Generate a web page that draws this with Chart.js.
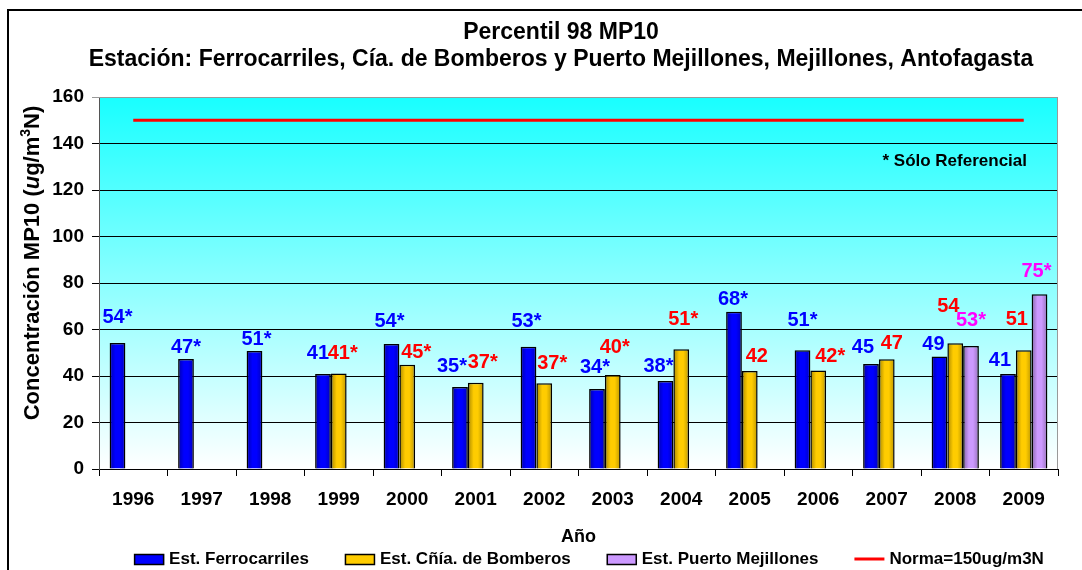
<!DOCTYPE html>
<html>
<head>
<meta charset="utf-8">
<script src="https://cdn.jsdelivr.net/npm/chart.js@4.4.1/dist/chart.umd.min.js"></script>
<style>
  html, body { margin: 0; padding: 0; background: #fff; }
  canvas { display: block; }
</style>
</head>
<body>
<canvas id="chart" width="1082" height="570"></canvas>
<script>
const FONT = '"Liberation Sans", Arial, Helvetica, sans-serif';

// Data
const years = ['1996', '1997', '1998', '1999', '2000', '2001', '2002', '2003', '2004', '2005', '2006', '2007', '2008', '2009'];
const ferrocarriles = [54.2, 47.3, 50.8, 40.9, 53.8, 35.3, 52.6, 34.4, 37.8, 67.6, 51.1, 45.2, 48.4, 40.9];
const bomberos = [null, null, null, 41.1, 44.8, 37.1, 36.9, 40.4, 51.5, 42.1, 42.4, 47.2, 54.1, 51.1];
const puerto = [null, null, null, null, null, null, null, null, null, null, null, null, 52.9, 75.2];
const norma = [150, 150, 150, 150, 150, 150, 150, 150, 150, 150, 150, 150, 150, 150];

const ferroLabels = ['54*', '47*', '51*', '41', '54*', '35*', '53*', '34*', '38*', '68*', '51*', '45', '49', '41'];
const bomberosLabels = ['', '', '', '41*', '45*', '37*', '37*', '40*', '51*', '42', '42*', '47', '54', '51'];
const puertoLabels = ['', '', '', '', '', '', '', '', '', '', '', '', '53*', '75*'];

const seriesNames = ['Est. Ferrocarriles', 'Est. Cñía. de Bomberos', 'Est. Puerto Mejillones', 'Norma=150ug/m3N'];
const titleLines = ['Percentil 98 MP10', 'Estación: Ferrocarriles, Cía. de Bomberos y Puerto Mejillones, Mejillones, Antofagasta'];
const xTitle = 'Año';
const note = '* Sólo Referencial';
const yMin = 0, yMax = 160, yStep = 20;

// label nudges (px from the top centre of each bar), the labels were dragged by hand in the original
const ferroNudge = [[0,-26],[0,-12],[2,-11],[-5,-20],[-2,-22],[-8,-20],[-2,-25],[-2,-22],[-7,-15],[-1,-12],[0,-30],[-8,-16],[-6,-12],[-8,-13]];
const bomberosNudge = [null,null,null,[4,-20],[9,-12],[7,-20],[8,-20],[2,-28],[2,-30],[7,-15],[12,-14],[5,-16],[-7,-37],[-7,-31]];
const puertoNudge = [null,null,null,null,null,null,null,null,null,null,null,null,[0,-26],[-3,-23]];

const COLORS = { ferro: '#0000FF', bomb: '#FFCC00', puerto: '#CC99FF', norma: '#FF0000' };
const LABEL_COLORS = ['#0000FF', '#FF0000', '#FF00FF'];

// Plugins
const backgroundPlugin = {
    id: 'plotBackground',
    beforeDraw(chart) {
        const { ctx, chartArea: a } = chart;
        ctx.save();
        ctx.fillStyle = '#fff';
        ctx.fillRect(0, 0, chart.width, chart.height);
        const g = ctx.createLinearGradient(0, a.top, 0, a.bottom);
        g.addColorStop(0, '#18FFFF');
        g.addColorStop(1, '#FFFFFF');
        ctx.fillStyle = g;
        ctx.fillRect(a.left, a.top, a.right - a.left, a.bottom - a.top);
        ctx.restore();
    }
};

// shading across each bar, like the Excel fill effect
const barShadePlugin = {
    id: 'barShade',
    afterDatasetsDraw(chart) {
        const { ctx } = chart;
        ctx.save();
        for (let d = 0; d < 3; d++) {
            chart.getDatasetMeta(d).data.forEach((bar, i) => {
                if (chart.data.datasets[d].data[i] == null) return;
                const { x, y, base, width } = bar.getProps(['x', 'y', 'base', 'width'], true);
                const l = x - width / 2 + 1, r = x + width / 2 - 1;
                const g = ctx.createLinearGradient(l, 0, r, 0);
                g.addColorStop(0, 'rgba(0,0,0,0.28)');
                g.addColorStop(0.35, 'rgba(0,0,0,0)');
                g.addColorStop(0.65, 'rgba(0,0,0,0)');
                g.addColorStop(1, 'rgba(0,0,0,0.22)');
                ctx.fillStyle = g;
                ctx.fillRect(l, y + 1, r - l, base - y - 1);
            });
        }
        ctx.restore();
    }
};

const decorPlugin = {
    id: 'decor',
    afterDraw(chart) {
        const { ctx, chartArea: a } = chart;
        ctx.save();

        // plot frame top/right
        ctx.strokeStyle = '#999';
        ctx.lineWidth = 1;
        ctx.beginPath();
        ctx.moveTo(a.left, a.top + 0.5);
        ctx.lineTo(a.right - 0.5, a.top + 0.5);
        ctx.lineTo(a.right - 0.5, a.bottom);
        ctx.stroke();

        // outer frame
        ctx.strokeStyle = '#000';
        ctx.lineWidth = 2;
        ctx.beginPath();
        ctx.moveTo(8, chart.height + 2);
        ctx.lineTo(8, 10);
        ctx.lineTo(chart.width + 2, 10);
        ctx.stroke();

        // title
        ctx.fillStyle = '#000';
        ctx.font = 'bold 23px ' + FONT;
        ctx.textAlign = 'center';
        ctx.textBaseline = 'middle';
        ctx.fillText(titleLines[0], 561, 33);
        ctx.fillText(titleLines[1], 561, 60);

        // data labels
        const labels = [ferroLabels, bomberosLabels, puertoLabels];
        const nudges = [ferroNudge, bomberosNudge, puertoNudge];
        ctx.font = 'bold 20px ' + FONT;
        for (let d = 0; d < 3; d++) {
            const meta = chart.getDatasetMeta(d);
            ctx.fillStyle = LABEL_COLORS[d];
            meta.data.forEach((bar, i) => {
                const txt = labels[d][i];
                if (!txt || chart.data.datasets[d].data[i] == null) return;
                const n = nudges[d][i] || [0, -18];
                ctx.fillText(txt, bar.x + n[0], bar.y + n[1]);
            });
        }

        // note
        const y = chart.scales.y;
        ctx.fillStyle = '#000';
        ctx.font = 'bold 17px ' + FONT;
        ctx.textAlign = 'right';
        ctx.fillText(note, a.right - 31, y.getPixelForValue(132.5));

        // y axis title with italic u and superscript 3
        const parts = [
            { t: 'Concentración MP10 (', f: 'bold 22px ' + FONT, up: 0 },
            { t: 'u', f: 'italic bold 22px ' + FONT, up: 0 },
            { t: 'g/m', f: 'bold 22px ' + FONT, up: 0 },
            { t: '3', f: 'bold 14px ' + FONT, up: 7 },
            { t: 'N)', f: 'bold 22px ' + FONT, up: 0 }
        ];
        let total = 0;
        parts.forEach(p => { ctx.font = p.f; p.w = ctx.measureText(p.t).width; total += p.w; });
        ctx.translate(33, 263);
        ctx.rotate(-Math.PI / 2);
        ctx.textAlign = 'left';
        let x = -total / 2;
        parts.forEach(p => { ctx.font = p.f; ctx.fillText(p.t, x, -p.up); x += p.w; });
        ctx.restore();

        // legend
        ctx.save();
        ctx.font = 'bold 17px ' + FONT;
        ctx.textBaseline = 'middle';
        ctx.textAlign = 'left';
        const box = 30, gap = 5, pad = 36, ly = 559;
        const widths = seriesNames.map(s => ctx.measureText(s).width);
        const full = widths.reduce((s, w) => s + w, 0) + seriesNames.length * (box + gap) + (seriesNames.length - 1) * pad;
        let lx = 589 - full / 2;
        const fills = [COLORS.ferro, COLORS.bomb, COLORS.puerto];
        seriesNames.forEach((s, i) => {
            if (i < 3) {
                ctx.fillStyle = fills[i];
                ctx.fillRect(lx, ly - 5, box, 11);
                ctx.strokeStyle = '#000';
                ctx.lineWidth = 1.5;
                ctx.strokeRect(lx + 0.5, ly - 5 + 0.5, box - 1, 10);
            } else {
                ctx.strokeStyle = COLORS.norma;
                ctx.lineWidth = 3;
                ctx.beginPath();
                ctx.moveTo(lx, ly);
                ctx.lineTo(lx + box, ly);
                ctx.stroke();
            }
            ctx.fillStyle = '#000';
            ctx.fillText(s, lx + box + gap, ly);
            lx += box + gap + widths[i] + pad;
        });
        ctx.restore();
    }
};

// Chart
Chart.defaults.font.family = FONT;
Chart.defaults.color = '#000';

const barStyle = { borderColor: '#000', borderWidth: 1.5, categoryPercentage: 0.69, barPercentage: 1.0 };

const ctx = document.getElementById('chart').getContext('2d');
new Chart(ctx, {
    type: 'bar',
    data: {
        labels: years,
        datasets: [
            { label: seriesNames[0], data: ferrocarriles, backgroundColor: COLORS.ferro, ...barStyle },
            { label: seriesNames[1], data: bomberos, backgroundColor: COLORS.bomb, ...barStyle },
            { label: seriesNames[2], data: puerto, backgroundColor: COLORS.puerto, ...barStyle },
            { type: 'line', label: seriesNames[3], data: norma, borderColor: COLORS.norma, backgroundColor: COLORS.norma, borderWidth: 3, pointRadius: 0, fill: false, tension: 0 }
        ]
    },
    options: {
        responsive: false,
        animation: false,
        layout: { padding: { left: 0, right: 24, top: 97, bottom: 0 } },
        plugins: {
            legend: { display: false },
            tooltip: { enabled: false },
            title: { display: false }
        },
        scales: {
            x: {
                grid: { drawOnChartArea: false, tickLength: 7, color: '#000' },
                border: { color: '#000', width: 1 },
                ticks: { color: '#000', font: { size: 19, weight: 'bold' }, padding: 12 },
                title: { display: true, text: xTitle, color: '#000', font: { size: 18, weight: 'bold' }, padding: { top: 22, bottom: 22 } },
                afterFit: s => { s.height = 101; }
            },
            y: {
                min: yMin,
                max: yMax,
                grid: { color: c => (c.tick && c.tick.value === yMax) ? '#999' : '#000', tickLength: 7 },
                border: { color: '#555', width: 1 },
                ticks: { stepSize: yStep, color: '#000', font: { size: 19, weight: 'bold' }, padding: 8 },
                afterFit: s => { s.width = 99; }
            }
        }
    },
    plugins: [backgroundPlugin, barShadePlugin, decorPlugin]
});
</script>
</body>
</html>
